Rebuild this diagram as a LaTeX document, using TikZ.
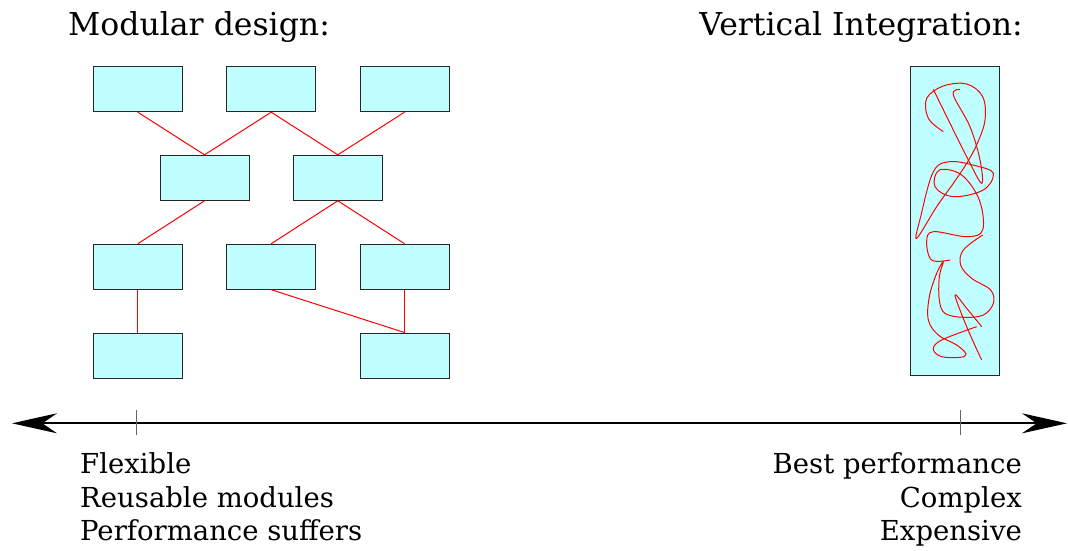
\documentclass[tikz,border=0pt]{standalone}
\usepackage{fontspec}
\setmainfont{DejaVu Serif}
\usetikzlibrary{arrows.meta}

\definecolor{modfill}{RGB}{191,255,255}
\tikzset{
  module/.style={draw=black!85,line width=1pt,fill=modfill,minimum width=89pt,minimum height=45pt,inner sep=0pt},
  wire/.style={red,line width=1pt},
  title/.style={font=\fontsize{31.5}{38}\selectfont,inner sep=0pt},
  remark/.style={font=\fontsize{27.5}{34}\selectfont,inner sep=0pt}
}

\begin{document}
\begin{tikzpicture}[x=1pt,y=-1pt]

%SPACING
\useasboundingbox (0,0) rectangle (1068,550);
%SPACING

\node[title,anchor=base west](t1) at (68,35) {Modular design:};
\node[title,anchor=base east](t2) at (1023,35) {Vertical Integration:};

\node[module](m1) at (137.8,89.2) {};
\node[module](m2) at (271.2,89.2) {};
\node[module](m3) at (404.5,89.2) {};
\node[module](m4) at (204.5,177.8) {};
\node[module](m5) at (337.8,177.8) {};
\node[module](m6) at (137.8,266.7) {};
\node[module](m7) at (271.2,266.7) {};
\node[module](m8) at (404.5,266.7) {};
\node[module](m9) at (137.8,355.5) {};
\node[module](m10) at (404.5,355.5) {};

\draw[wire] (m1.south) -- (m4.north);
\draw[wire] (m2.south) -- (m4.north);
\draw[wire] (m2.south) -- (m5.north);
\draw[wire] (m3.south) -- (m5.north);

\draw[wire] (m4.south) -- (m6.north);
\draw[wire] (m5.south) -- (m7.north);
\draw[wire] (m5.south) -- (m8.north);

\draw[wire] (m6.south) -- (m9.north);
\draw[wire] (m7.south) -- (m10.north);
\draw[wire] (m8.south) -- (m10.north);

\node[module,minimum width=89pt,minimum height=309pt](v1) at (954.7,221.4) {};

%TANGLE
\begin{scope}[shift={(900,60)},scale=1/3]
\draw[wire] plot[smooth,tension=0.6] coordinates {
  (130,215) (85,175) (80,115) (130,78) (200,72) (248,110) (255,180)
  (232,250) (200,310) (160,370) (110,440) (50,535) (62,470) (100,335)
  (150,305) (230,318) (280,340) (250,390) (160,410) (105,380) (118,330)
  (185,345) (238,420) (248,510) (200,530) (100,515) (80,545) (95,600)
  (150,600)};
\draw[wire] plot[smooth,tension=0.6] coordinates {
  (100,88) (150,190) (205,300) (245,370) (240,300) (210,200) (160,105) (180,88)};
\draw[wire] plot[smooth,tension=0.6] coordinates {
  (248,525) (190,570) (182,615) (215,655) (272,690) (280,730) (250,765)
  (190,772) (135,760) (118,720) (118,650) (130,605) (110,640) (88,710)
  (85,780) (115,825) (170,855) (198,882) (180,892) (125,890) (100,868)
  (125,840) (230,800)};
\draw[wire] plot[smooth,tension=0.6] coordinates {
  (245,900) (200,800) (165,705) (200,745) (245,800)};
\end{scope}
%TANGLE

\coordinate(axl) at (12,423.3);
\coordinate(axr) at (1067,423.3);
\draw[{Stealth[length=45pt,width=20pt]}-{Stealth[length=45pt,width=20pt]},line width=2.2pt] (axl) -- (axr);
\coordinate(k1a) at (136.7,410);
\coordinate(k1b) at (136.7,435);
\coordinate(k2a) at (960,410);
\coordinate(k2b) at (960,435);
\draw[gray!80!black,line width=1pt] (k1a) -- (k1b);
\draw[gray!80!black,line width=1pt] (k2a) -- (k2b);

\node[remark,anchor=base west](l1) at (80,473) {Flexible};
\node[remark,anchor=base west](l2) at (80,507) {Reusable modules};
\node[remark,anchor=base west](l3) at (80,540) {Performance suffers};
\node[remark,anchor=base east](r1) at (1022,473) {Best performance};
\node[remark,anchor=base east](r2) at (1022,507) {Complex};
\node[remark,anchor=base east](r3) at (1022,540) {Expensive};

\end{tikzpicture}
\end{document}
